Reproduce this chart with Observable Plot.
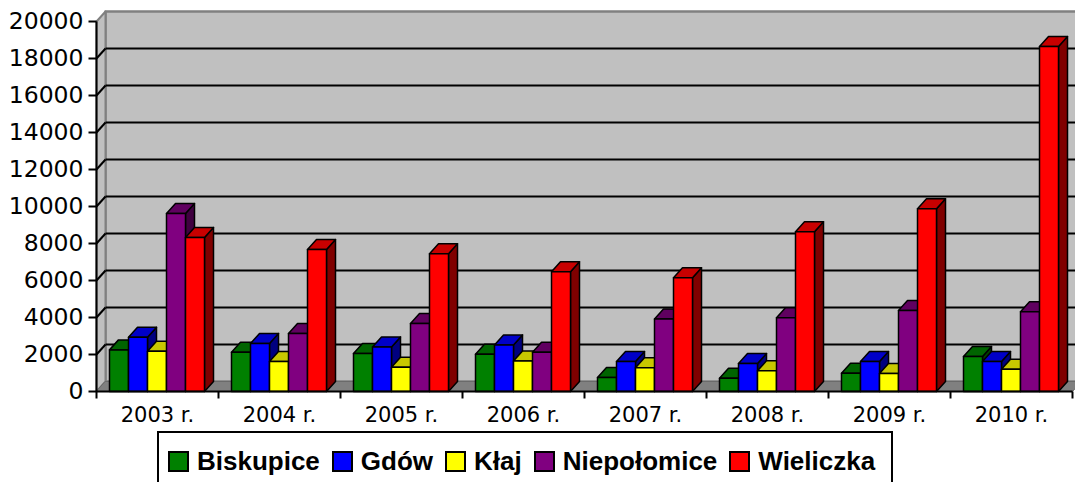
<!DOCTYPE html>
<html><head><meta charset="utf-8">
<script src="https://cdn.jsdelivr.net/npm/d3@7"></script>
<script src="https://cdn.jsdelivr.net/npm/@observablehq/plot@0.6"></script>
<style>
body{margin:0;background:#fff;}
#chart{position:absolute;left:0;top:0;}
#legend{position:absolute;left:157px;top:431px;width:736px;height:60px;border:2px solid #000;box-sizing:border-box;
  display:flex;align-items:flex-start;padding-top:15px;padding-left:9px;gap:12px;
  font-family:"Liberation Sans",Arial,sans-serif;font-weight:bold;font-size:26px;color:#000;}
#legend .item{display:flex;align-items:center;gap:8px;line-height:26px;}
#legend .sw{width:17px;height:17px;border:2px solid #000;}
</style>
</head><body>
<div id="chart"></div>
<div id="legend"></div>
<script>
// ---- data ----
const years = ["2003 r.","2004 r.","2005 r.","2006 r.","2007 r.","2008 r.","2009 r.","2010 r."];
const seriesNames = ["Biskupice","Gdów","Kłaj","Niepołomice","Wieliczka"];
const biskupice   = [2250, 2120, 2050, 2010,  760,  720,  990,  1890];
const gdow        = [2930, 2600, 2410, 2520, 1620, 1510, 1620,  1620];
const klaj        = [2170, 1620, 1310, 1650, 1290, 1120,  970,  1200];
const niepolomice = [9620, 3130, 3670, 2120, 3920, 3990, 4380,  4310];
const wieliczka   = [8330, 7670, 7440, 6470, 6150, 8630, 9880, 18650];
const yTicks = [0,2000,4000,6000,8000,10000,12000,14000,16000,18000,20000];
const frontColors = ["#008000","#0000ff","#ffff00","#800080","#ff0000"];
const topColors   = ["#006400","#0000c8","#c8c800","#600060","#c80000"];
const sideColors  = ["#004000","#000080","#808000","#400040","#800000"];
const values = [biskupice, gdow, klaj, niepolomice, wieliczka];

// ---- layout ----
const W = 1075, H = 430;
const M = {left:96, right:3, top:21, bottom:39};
const nG = years.length;
const yMax = 20000;
const ux = nG / (W - M.left - M.right);   // data units per px (x)
const uy = yMax / (H - M.top - M.bottom); // data units per px (y)
const DX = 9*ux, DY = 10*uy;              // 3-D depth
const barOff = 13*ux, barW = 19*ux;

const poly = (pts, fill, stroke = "#000", sw = 1.5) =>
  Plot.line(pts.map(([x,y]) => ({x,y})), {x:"x", y:"y", fill, stroke, strokeWidth:sw, curve:"linear-closed", strokeLinejoin:"round"});

const marks = [];
// walls and floor
marks.push(poly([[DX,DY],[nG+DX,DY],[nG+DX,yMax+DY],[DX,yMax+DY]], "#c0c0c0", "#808080", 2.5));
marks.push(poly([[0,0],[DX,DY],[DX,yMax+DY],[0,yMax]], "#c0c0c0", "#808080", 2));
marks.push(poly([[0,0],[nG,0],[nG+DX,DY],[DX,DY]], "#808080", "#6a6a6a", 1));
// gridlines
const grid = yTicks.filter(t => t > 0 && t < yMax);
marks.push(Plot.link(grid, {x1:DX, x2:nG+DX, y1:d=>d+DY, y2:d=>d+DY, stroke:"#000", strokeWidth:2}));
marks.push(Plot.link(grid, {x1:0, x2:DX, y1:d=>d, y2:d=>d+DY, stroke:"#000", strokeWidth:2}));
// bars
years.forEach((yr, i) => {
  values.forEach((arr, j) => {
    const v = arr[i];
    const x0 = i + barOff + j*barW, x1 = x0 + barW;
    marks.push(poly([[x1,0],[x1+DX,DY],[x1+DX,v+DY],[x1,v]], sideColors[j]));
    marks.push(poly([[x0,v],[x1,v],[x1+DX,v+DY],[x0+DX,v+DY]], topColors[j]));
    marks.push(poly([[x0,0],[x1,0],[x1,v],[x0,v]], frontColors[j]));
  });
});
// axes
marks.push(Plot.link([0], {x1:0, x2:0, y1:-7*uy, y2:yMax, stroke:"#000", strokeWidth:2}));
marks.push(Plot.link([0], {x1:0, x2:nG, y1:0, y2:0, stroke:"#000", strokeWidth:2}));
marks.push(Plot.link(yTicks, {x1:-8*ux, x2:0, y1:d=>d, y2:d=>d, stroke:"#000", strokeWidth:2}));
marks.push(Plot.link(d3.range(1, nG+1), {x1:d=>d, x2:d=>d, y1:0, y2:-7*uy, stroke:"#000", strokeWidth:2}));
// labels
marks.push(Plot.text(yTicks, {x:0, y:d=>d, dx:-13, text:d=>String(d), textAnchor:"end", fontSize:23.5, fill:"#000"}));
marks.push(Plot.text(years, {x:(d,i)=>i+0.5, y:0, dy:24, text:d=>d, textAnchor:"middle", fontSize:21, fill:"#000"}));

const chart = Plot.plot({
  width: W, height: H,
  marginLeft: M.left, marginRight: M.right, marginTop: M.top, marginBottom: M.bottom,
  x: {type:"linear", domain:[0, nG], axis:null},
  y: {type:"linear", domain:[0, yMax], axis:null},
  style: {fontFamily:"DejaVu Sans, Verdana, sans-serif", background:"#fff", overflow:"visible"},
  marks
});
document.getElementById("chart").appendChild(chart);

// legend
const lg = document.getElementById("legend");
seriesNames.forEach((name, j) => {
  const it = document.createElement("div"); it.className = "item";
  const sw = document.createElement("div"); sw.className = "sw"; sw.style.background = frontColors[j];
  const tx = document.createElement("span"); tx.textContent = name;
  it.appendChild(sw); it.appendChild(tx); lg.appendChild(it);
});
</script>
</body></html>
